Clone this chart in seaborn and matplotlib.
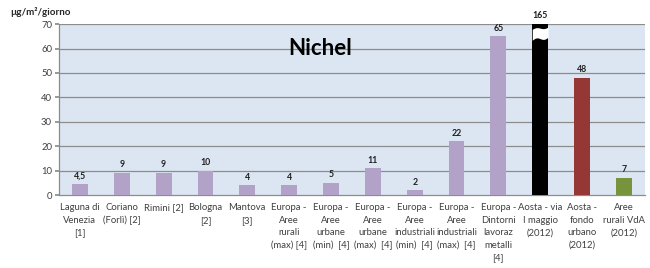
import matplotlib
matplotlib.use("Agg")
import matplotlib.pyplot as plt
import seaborn as sns
import numpy as np
import pandas as pd

categories = ["Laguna di\nVenezia\n[1]", "Coriano\n(Forlì) [2]", "Rimini [2]", "Bologna\n[2]",
              "Mantova\n[3]", "Europa -\nAree\nrurali\n(max) [4]", "Europa -\nAree\nurbane\n(min)  [4]",
              "Europa -\nAree\nurbane\n(max)  [4]", "Europa -\nAree\nindustriali\n(min)  [4]",
              "Europa -\nAree\nindustriali\n(max)  [4]", "Europa -\nDintorni\nlavoraz\nmetalli\n[4]",
              "Aosta - via\nI maggio\n(2012)", "Aosta -\nfondo\nurbano\n(2012)", "Aree\nrurali VdA\n(2012)"]
values = [4.5, 9, 9, 10, 4, 4, 5, 11, 2, 22, 65, 165, 48, 7]
value_labels = ["4,5", "9", "9", "10", "4", "4", "5", "11", "2", "22", "65", "165", "48", "7"]
colors = ["#b3a2c7"] * 11 + ["#000000", "#953735", "#77933c"]
yticks = [0, 10, 20, 30, 40, 50, 60, 70]

sns.set_theme(style="white")
plt.rcParams["font.family"] = ["Lato", "DejaVu Sans"]

fig = plt.figure(figsize=(6.5, 2.68), dpi=100)
ax = fig.add_axes([0.0908, 0.272, 0.9012, 0.638])
ax.set_facecolor("#dce6f2")

df = pd.DataFrame({"cat": categories, "val": values})
sns.barplot(data=df, x="cat", y="val", hue="cat", palette=colors, legend=False,
            width=0.38, ax=ax, saturation=1, zorder=3, edgecolor="none", linewidth=0)

ax.set_ylim(0, 70)
ax.set_xlim(-0.5, len(categories) - 0.5)
ax.set_yticks(yticks)
ax.set_yticklabels([str(t) for t in yticks], fontsize=6.8, color="#404040")
for t in yticks[1:]:
    ax.axhline(t, color="#8c8c8c", lw=0.9, zorder=1)

ax.set_xticks(range(len(categories)))
ax.set_xticklabels(categories, fontsize=6.8, color="#404040", linespacing=1.5)
ax.tick_params(axis="x", length=0, pad=6)
ax.set_xticks(np.arange(-0.5, len(categories), 1), minor=True)
ax.tick_params(axis="x", which="minor", length=3, color="#8c8c8c", direction="out")
ax.tick_params(axis="y", length=3, color="#8c8c8c", direction="out", pad=2, left=True)
ax.set_xlabel("")
ax.set_ylabel("")
for s in ["top", "right"]:
    ax.spines[s].set_visible(False)
for s in ["left", "bottom"]:
    ax.spines[s].set_color("#8c8c8c")
    ax.spines[s].set_linewidth(0.9)

# value labels
for i, (v, lab) in enumerate(zip(values, value_labels)):
    y = min(v, 70)
    ax.text(i, y + 1.5, lab, ha="center", va="bottom", fontsize=6.3, fontweight="bold",
            color="#202020", clip_on=False)

# break mark on the clipped bar
bi = int(np.argmax(values))
xs = np.linspace(bi - 0.19, bi + 0.19, 50)
t = (xs - xs[0]) / (xs[-1] - xs[0])
low = 63.4 + 1.3 * t + 0.6 * np.sin(t * 2 * np.pi)
high = 67.9 + 0.9 * t + 0.4 * np.sin(t * 2 * np.pi)
ax.fill_between(xs, low, high, color="white", zorder=4, lw=0)

ax.text(0.445, 0.86, "Nichel", transform=ax.transAxes, fontsize=16, fontweight="bold",
        ha="center", va="center", color="#000000")
fig.text(0.016, 0.955, "µg/m²/giorno", fontsize=7, fontweight="bold", ha="left", va="center")

fig.savefig("out.png", dpi=100)
